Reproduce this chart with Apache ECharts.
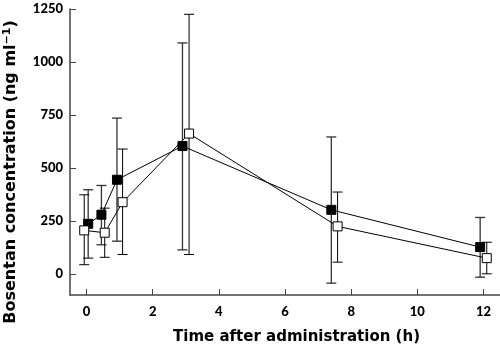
<!DOCTYPE html>
<html>
<head>
<meta charset="utf-8">
<script src="https://cdn.jsdelivr.net/npm/echarts@6/dist/echarts.min.js"></script>
<style>
  html, body { margin: 0; padding: 0; background: #fff; }
  #chart { width: 500px; height: 347px; }
</style>
</head>
<body>
<div id="chart"></div>
<script>
// filled squares
const timeFilled = [0.05, 0.45, 0.92, 2.9, 7.4, 11.9];
const meanFilled = [236, 279, 444, 603, 302, 126];
const upperFilled = [397, 417, 735, 1090, 646, 266];
const lowerFilled = [74, 137, 154, 113, -44, -16];

// open squares
const timeOpen = [-0.07, 0.55, 1.09, 3.1, 7.59, 12.1];
const meanOpen = [205, 194, 338, 662, 224, 74];
const upperOpen = [373, 310, 589, 1225, 386, 149];
const lowerOpen = [43, 78, 91, 91, 55, 0];

const xTicks = [0, 2, 4, 6, 8, 10, 12];
const yTicks = [0, 250, 500, 750, 1000, 1250];

const font = 'Lato, "DejaVu Sans", sans-serif';
const titleFont = '"DejaVu Sans", sans-serif';

const points = (xs, ys) => xs.map((x, i) => [x, ys[i]]);
const bars = (xs, lo, hi) => xs.map((x, i) => [x, lo[i], hi[i]]);

// error bar: vertical line with caps
const errorBar = (color, width) => (params, api) => {
  const top = api.coord([api.value(0), api.value(2)]);
  const bot = api.coord([api.value(0), api.value(1)]);
  const half = 5;
  const style = { stroke: color, lineWidth: width };
  return {
    type: 'group',
    children: [
      { type: 'line', shape: { x1: top[0], y1: top[1], x2: bot[0], y2: bot[1] }, style },
      { type: 'line', shape: { x1: top[0] - half, y1: top[1], x2: top[0] + half, y2: top[1] }, style },
      { type: 'line', shape: { x1: bot[0] - half, y1: bot[1], x2: bot[0] + half, y2: bot[1] }, style },
    ],
  };
};

const chart = echarts.init(document.getElementById('chart'));
chart.setOption({
  animation: false,
  backgroundColor: '#fff',
  grid: { left: 70, right: 0, top: 9, bottom: 52, outerBoundsMode: 'none' },
  xAxis: {
    type: 'value',
    min: -0.5,
    max: 12.5,
    name: 'Time after administration (h)',
    nameLocation: 'middle',
    nameGap: 35,
    nameTextStyle: { fontFamily: titleFont, fontWeight: 'bold', fontSize: 15, color: '#000', padding: [0, 0, 0, 23] },
    axisLine: { show: true, onZero: false, lineStyle: { color: '#444', width: 1.5 } },
    axisTick: { show: true, inside: true, length: 6, customValues: xTicks, lineStyle: { color: '#444' } },
    axisLabel: { customValues: xTicks, margin: 10, fontFamily: font, fontWeight: 900, fontSize: 13, color: '#000', formatter: (v) => String(v) },
    splitLine: { show: false },
  },
  yAxis: {
    type: 'value',
    min: -100,
    max: 1250,
    name: 'Bosentan concentration (ng ml{sup|−1})',
    nameLocation: 'middle',
    nameGap: 50,
    nameRotate: 90,
    nameTextStyle: {
      fontFamily: titleFont, fontWeight: 'bold', fontSize: 16, color: '#000',
      padding: [0, 40, 0, 0],
      rich: { sup: { fontFamily: titleFont, fontWeight: 'bold', fontSize: 11, color: '#000', verticalAlign: 'top', padding: [0, 0, 7, 0] } },
    },
    axisLine: { show: true, onZero: false, lineStyle: { color: '#444', width: 1.5 } },
    axisTick: { show: true, inside: true, length: 6, customValues: yTicks, lineStyle: { color: '#444' } },
    axisLabel: { customValues: yTicks, margin: 7, fontFamily: font, fontWeight: 900, fontSize: 13, color: '#000', formatter: (v) => String(v) },
    splitLine: { show: false },
  },
  series: [
    {
      type: 'custom',
      renderItem: errorBar('#333', 1.3),
      data: bars(timeFilled, lowerFilled, upperFilled),
      encode: { x: 0, y: [1, 2] },
      z: 1,
    },
    {
      type: 'custom',
      renderItem: errorBar('#000', 1),
      data: bars(timeOpen, lowerOpen, upperOpen),
      encode: { x: 0, y: [1, 2] },
      z: 1,
    },
    {
      type: 'line',
      data: points(timeFilled, meanFilled),
      symbol: 'rect',
      symbolSize: 9,
      showAllSymbol: true,
      lineStyle: { color: '#000', width: 1 },
      itemStyle: { color: '#000', borderColor: '#000', borderWidth: 1 },
      z: 3,
    },
    {
      type: 'line',
      data: points(timeOpen, meanOpen),
      symbol: 'rect',
      symbolSize: 9,
      showAllSymbol: true,
      lineStyle: { color: '#000', width: 1 },
      itemStyle: { color: '#fff', borderColor: '#000', borderWidth: 1 },
      z: 4,
    },
  ],
});
</script>
</body>
</html>
